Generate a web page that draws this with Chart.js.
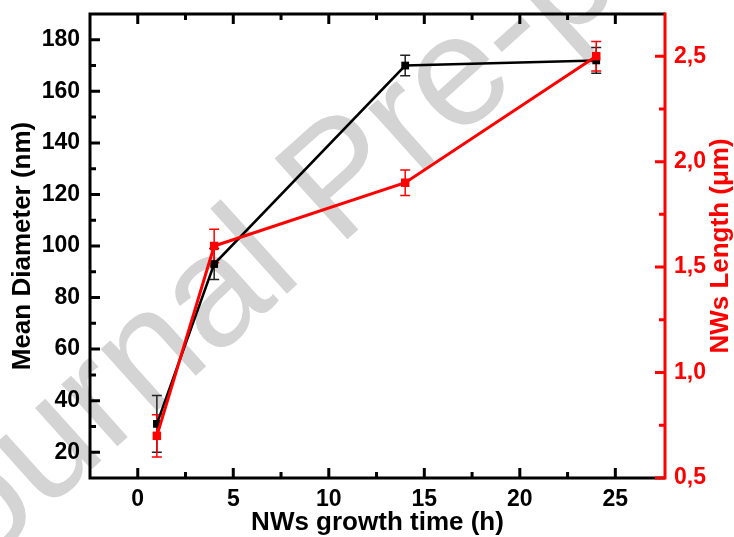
<!DOCTYPE html>
<html>
<head>
<meta charset="utf-8">
<script src="https://cdn.jsdelivr.net/npm/chart.js@4.4.0/dist/chart.umd.min.js"></script>
<style>
  html, body { margin: 0; padding: 0; background: #fff; }
  #wrap { width: 734px; height: 537px; }
</style>
</head>
<body>
<div id="wrap"><canvas id="chart" width="734" height="537"></canvas></div>
<script>
// values
const growthTime = [1, 4, 14, 24];
const meanDiameter = [31, 93, 170, 172];
const diameterError = [11, 6, 4, 5];
const nwLength = [0.70, 1.60, 1.90, 2.50];
const lengthError = [0.10, 0.08, 0.06, 0.07];

const xTicks = [0, 5, 10, 15, 20, 25];
const xMinorTicks = [2.5, 7.5, 12.5, 17.5, 22.5];
const diameterTicks = [20, 40, 60, 80, 100, 120, 140, 160, 180];
const diameterMinorTicks = [30, 50, 70, 90, 110, 130, 150, 170];
const lengthTicks = [0.5, 1.0, 1.5, 2.0, 2.5];
const lengthMinorTicks = [0.75, 1.25, 1.75, 2.25];

const FONT = '"Liberation Sans", Arial, sans-serif';
const RED = '#ff0000';

const noPadding = s => {
    s.paddingTop = 0; s.paddingBottom = 0;
    s.paddingLeft = 0; s.paddingRight = 0;
};

// big grey watermark, behind everything
const watermark = {
    id: 'watermark',
    beforeDraw(chart) {
        const ctx = chart.ctx;
        ctx.save();
        ctx.fillStyle = '#fff';
        ctx.fillRect(0, 0, chart.width, chart.height);
        ctx.translate(-80, 624);
        ctx.rotate(-42 * Math.PI / 180);
        ctx.font = '158px ' + FONT;
        ctx.fillStyle = '#d4d4d4';
        ctx.textAlign = 'left';
        ctx.textBaseline = 'alphabetic';
        ctx.fillText('Journal Pre-proof', 0, 0);
        ctx.restore();
    }
};

const errorBars = {
    id: 'errorBars',
    beforeDatasetsDraw(chart) {
        const ctx = chart.ctx;
        const x = chart.scales.x;
        const sets = [
            { scale: chart.scales.y, vals: meanDiameter, errs: diameterError, color: '#222' },
            { scale: chart.scales.y2, vals: nwLength, errs: lengthError, color: RED }
        ];
        ctx.save();
        ctx.lineWidth = 1.5;
        sets.forEach(set => {
            ctx.strokeStyle = set.color;
            growthTime.forEach((t, i) => {
                const px = x.getPixelForValue(t);
                const top = set.scale.getPixelForValue(set.vals[i] + set.errs[i]);
                const bot = set.scale.getPixelForValue(set.vals[i] - set.errs[i]);
                ctx.beginPath();
                ctx.moveTo(px, top); ctx.lineTo(px, bot);
                ctx.moveTo(px - 5, top); ctx.lineTo(px + 5, top);
                ctx.moveTo(px - 5, bot); ctx.lineTo(px + 5, bot);
                ctx.stroke();
            });
        });
        ctx.restore();
    }
};

// frame and inward ticks, Origin style
const frame = {
    id: 'frame',
    afterDraw(chart) {
        const ctx = chart.ctx;
        const a = chart.chartArea;
        const x = chart.scales.x, y = chart.scales.y, y2 = chart.scales.y2;
        ctx.save();
        ctx.lineWidth = 3;
        ctx.lineCap = 'butt';

        ctx.strokeStyle = '#000';
        ctx.beginPath();
        ctx.moveTo(a.right, a.top); ctx.lineTo(a.left, a.top);
        ctx.lineTo(a.left, a.bottom); ctx.lineTo(a.right, a.bottom);
        ctx.stroke();

        ctx.beginPath();
        xTicks.forEach(v => {
            const p = x.getPixelForValue(v);
            ctx.moveTo(p, a.bottom); ctx.lineTo(p, a.bottom - 10);
            ctx.moveTo(p, a.top); ctx.lineTo(p, a.top + 10);
        });
        xMinorTicks.forEach(v => {
            const p = x.getPixelForValue(v);
            ctx.moveTo(p, a.bottom); ctx.lineTo(p, a.bottom - 6);
            ctx.moveTo(p, a.top); ctx.lineTo(p, a.top + 6);
        });
        diameterTicks.forEach(v => {
            const p = y.getPixelForValue(v);
            ctx.moveTo(a.left, p); ctx.lineTo(a.left + 10, p);
        });
        diameterMinorTicks.forEach(v => {
            const p = y.getPixelForValue(v);
            ctx.moveTo(a.left, p); ctx.lineTo(a.left + 6, p);
        });
        ctx.stroke();

        ctx.strokeStyle = RED;
        ctx.beginPath();
        ctx.moveTo(a.right, a.top - 1.5); ctx.lineTo(a.right, a.bottom + 1.5);
        lengthTicks.forEach(v => {
            const p = y2.getPixelForValue(v);
            ctx.moveTo(a.right, p); ctx.lineTo(a.right - 10, p);
        });
        lengthMinorTicks.forEach(v => {
            const p = y2.getPixelForValue(v);
            ctx.moveTo(a.right, p); ctx.lineTo(a.right - 6, p);
        });
        ctx.stroke();

        // right axis title reads bottom to top
        ctx.translate(721, (a.top + a.bottom) / 2);
        ctx.rotate(-Math.PI / 2);
        ctx.font = 'bold 26px ' + FONT;
        ctx.fillStyle = RED;
        ctx.textAlign = 'center';
        ctx.textBaseline = 'middle';
        ctx.fillText('NWs Length (\u03bcm)', 0, 0);
        ctx.restore();
    }
};

const tickFont = { family: FONT, size: 23, weight: 'bold' };
const titleFont = { family: FONT, size: 26, weight: 'bold' };

new Chart(document.getElementById('chart'), {
    type: 'line',
    data: {
        datasets: [
            {
                label: 'Mean Diameter',
                data: growthTime.map((t, i) => ({ x: t, y: meanDiameter[i] })),
                yAxisID: 'y',
                borderColor: '#000',
                backgroundColor: '#000',
                borderWidth: 2.5,
                pointStyle: 'rect',
                pointRadius: 5.5,
                pointBorderWidth: 0,
                tension: 0,
                order: 1
            },
            {
                label: 'NWs Length',
                data: growthTime.map((t, i) => ({ x: t, y: nwLength[i] })),
                yAxisID: 'y2',
                borderColor: RED,
                backgroundColor: RED,
                borderWidth: 3,
                pointStyle: 'rect',
                pointRadius: 6,
                pointBorderWidth: 0,
                tension: 0,
                order: 0
            }
        ]
    },
    options: {
        responsive: false,
        animation: false,
        layout: { padding: { top: 14, left: 0, right: 0, bottom: 0 } },
        plugins: {
            legend: { display: false },
            tooltip: { enabled: false }
        },
        scales: {
            x: {
                type: 'linear',
                position: 'bottom',
                min: -2.5,
                max: 27.6,
                afterBuildTicks: s => { s.ticks = xTicks.map(v => ({ value: v })); },
                afterFit: s => { s.height = 59; noPadding(s); },
                grid: { display: false, drawTicks: false },
                border: { display: false },
                ticks: { font: tickFont, color: '#000', padding: 8, maxRotation: 0, autoSkip: false },
                title: {
                    display: true,
                    text: 'NWs growth time (h)',
                    font: titleFont,
                    color: '#000',
                    padding: { top: 0, bottom: -1 }
                }
            },
            y: {
                position: 'left',
                min: 10,
                max: 190,
                afterBuildTicks: s => { s.ticks = diameterTicks.map(v => ({ value: v })); },
                afterFit: s => { s.width = 90; noPadding(s); },
                grid: { display: false, drawTicks: false },
                border: { display: false },
                ticks: { font: tickFont, color: '#000', padding: 10 },
                title: {
                    display: true,
                    text: 'Mean Diameter (nm)',
                    font: titleFont,
                    color: '#000',
                    padding: { top: 7, bottom: 0 }
                }
            },
            y2: {
                position: 'right',
                min: 0.5,
                max: 2.7,
                afterBuildTicks: s => { s.ticks = lengthTicks.map(v => ({ value: v })); },
                afterFit: s => { s.width = 69; noPadding(s); },
                grid: { display: false, drawTicks: false },
                border: { display: false },
                ticks: {
                    font: tickFont,
                    color: RED,
                    padding: 9,
                    callback: v => v.toFixed(1).replace('.', ',')
                }
            }
        }
    },
    plugins: [watermark, errorBars, frame]
});
</script>
</body>
</html>
